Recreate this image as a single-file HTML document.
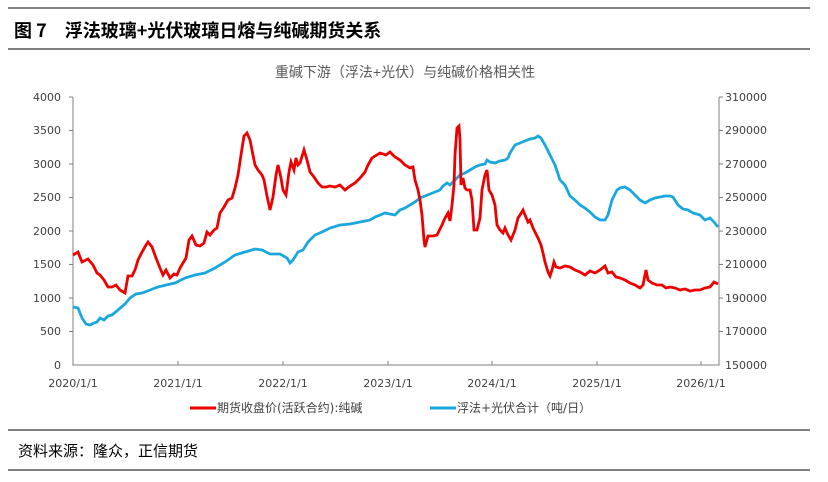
<!DOCTYPE html>
<html><head><meta charset="utf-8"><style>
body{margin:0;background:#fff;}
svg{display:block;font-family:"Liberation Sans","Noto Sans CJK SC",sans-serif;}
</style></head><body>
<svg width="828" height="482" viewBox="0 0 828 482" xmlns="http://www.w3.org/2000/svg">
<line x1="8" y1="8" x2="810" y2="8" stroke="#000" stroke-width="1"/>
<text x="14" y="37" font-size="18" font-weight="bold" font-family="'Noto Sans CJK SC',sans-serif">图 7　浮法玻璃+光伏玻璃日熔与纯碱期货关系</text>
<line x1="8" y1="49" x2="810" y2="49" stroke="#000" stroke-width="1"/>
<text x="405" y="77" font-size="14" fill="#595959" text-anchor="middle">重碱下游（浮法+光伏）与纯碱价格相关性</text>
<g font-size="11" fill="#404040" font-family="'DejaVu Sans',sans-serif">
<g text-anchor="end">
<text x="61" y="101">4000</text><text x="61" y="134">3500</text><text x="61" y="168">3000</text><text x="61" y="201">2500</text><text x="61" y="235">2000</text><text x="61" y="268">1500</text><text x="61" y="302">1000</text><text x="61" y="335">500</text><text x="61" y="369">0</text>
</g>
<text x="725" y="101">310000</text><text x="725" y="134">290000</text><text x="725" y="168">270000</text><text x="725" y="201">250000</text><text x="725" y="235">230000</text><text x="725" y="268">210000</text><text x="725" y="302">190000</text><text x="725" y="335">170000</text><text x="725" y="369">150000</text>
<g text-anchor="middle">
<text x="73" y="387">2020/1/1</text><text x="178" y="387">2021/1/1</text><text x="283" y="387">2022/1/1</text><text x="388" y="387">2023/1/1</text><text x="492" y="387">2024/1/1</text><text x="597" y="387">2025/1/1</text><text x="701" y="387">2026/1/1</text>
</g>
</g>
<g stroke="#808080" stroke-width="1" fill="none">
<path d="M73 97V365H719V97"/>
<path d="M69 97H73M69 130.5H73M69 164H73M69 197.5H73M69 231H73M69 264.5H73M69 298H73M69 331.5H73"/>
<path d="M719 97H723M719 130.5H723M719 164H723M719 197.5H723M719 231H723M719 264.5H723M719 298H723M719 331.5H723"/>
<path d="M178 365V361M283 365V361M388 365V361M492 365V361M597 365V361M701 365V361"/>
</g>
<polyline fill="none" stroke="#1AA7DE" stroke-width="2.8" points="73,307 78,308 82,318 86,324 90,325 94,323 97,322 100,318 104,320 108,316 112,315 118,310 125,304 130,298 136,294 142,293 150,290 158,287 166,285 175,283 185,278 195,275 205,273 215,268 225,262 235,255 245,252 255,249 262,250 270,254 280,254 287,258 290,263 293,260 298,252 303,250 308,242 315,235 322,232 330,228 340,225 350,224 360,222 370,220 375,217 385,213 390,214 395,215 400,210 405,208 410,205 415,202 420,198 425,196 430,194 435,192 440,190 443,186 447,183 450,185 455,180 460,175 465,173 470,170 475,167 480,165 485,164 487,160 490,162 495,163 500,161 505,160 508,158 510,153 515,145 520,143 525,141 530,139 535,138 538,136 541,138 545,145 550,155 555,165 560,180 565,185 570,196 575,200 580,205 585,208 590,212 595,217 600,220 605,220 608,215 612,200 617,190 620,188 625,187 630,190 635,195 640,200 645,203 650,200 655,198 660,197 665,196 670,196 673,197 678,205 683,209 688,210 693,213 700,215 705,220 710,218 714,222 718,227"/>
<polyline fill="none" stroke="#EE0000" stroke-width="2.8" points="73,255 78,252 82,262 88,259 93,265 97,273 100,275 104,280 108,287 112,287 116,285 120,290 125,293 128,276 132,276 135,270 138,260 142,252 146,245 148,242 152,247 156,258 160,268 163,275 166,270 170,278 174,274 177,275 180,268 183,263 186,258 189,240 192,236 196,245 200,246 204,243 207,232 210,235 214,230 217,228 220,213 224,207 228,200 232,198 235,188 238,175 241,155 244,136 247,133 250,140 252,150 255,165 258,170 262,175 264,180 267,196 270,210 273,197 276,175 278,165 281,178 283,190 286,195 289,172 291,162 294,170 296,158 298,165 300,163 304,150 307,160 310,172 314,177 318,183 322,187 326,187 330,186 335,187 340,185 345,190 350,186 355,183 360,178 365,172 368,165 372,158 380,153 386,155 390,152 395,157 400,160 405,165 410,168 413,167 415,180 418,190 420,200 422,215 424,240 425,247 428,236 433,236 437,235 442,225 445,218 448,213 450,221 452,205 454,185 455,155 457,128 459,126 460,140 461,185 463,178 465,188 467,190 470,190 472,200 474,230 477,230 480,218 482,190 485,175 487,170 489,190 492,195 495,205 497,225 500,230 503,233 505,228 508,235 511,240 513,235 515,230 518,218 520,215 523,210 525,215 528,222 530,220 533,228 535,232 538,238 541,245 543,253 545,262 548,272 550,276 552,270 554,262 556,267 560,268 565,266 570,267 575,270 580,272 585,275 590,271 595,273 600,270 605,266 608,273 612,272 616,277 620,278 625,280 630,283 635,285 640,288 643,285 646,270 648,280 652,283 657,285 662,285 666,288 670,287 675,288 680,290 685,289 690,291 695,290 700,290 705,288 710,287 714,282 718,284"/>
<line x1="190" y1="408" x2="216" y2="408" stroke="#EE0000" stroke-width="3"/>
<text x="217" y="412" font-size="12" fill="#404040" font-family="'DejaVu Sans','Noto Sans CJK SC',sans-serif">期货收盘价(活跃合约):纯碱</text>
<line x1="430" y1="408" x2="456" y2="408" stroke="#1AA7DE" stroke-width="3"/>
<text x="457" y="412" font-size="12" fill="#404040" font-family="'DejaVu Sans','Noto Sans CJK SC',sans-serif">浮法+光伏合计（吨/日）</text>
<line x1="8" y1="430" x2="810" y2="430" stroke="#000" stroke-width="1"/>
<text x="18" y="456" font-size="15" font-family="'Noto Sans CJK SC',sans-serif">资料来源：隆众，正信期货</text>
<line x1="8" y1="470" x2="810" y2="470" stroke="#000" stroke-width="1"/>
</svg>
</body></html>
